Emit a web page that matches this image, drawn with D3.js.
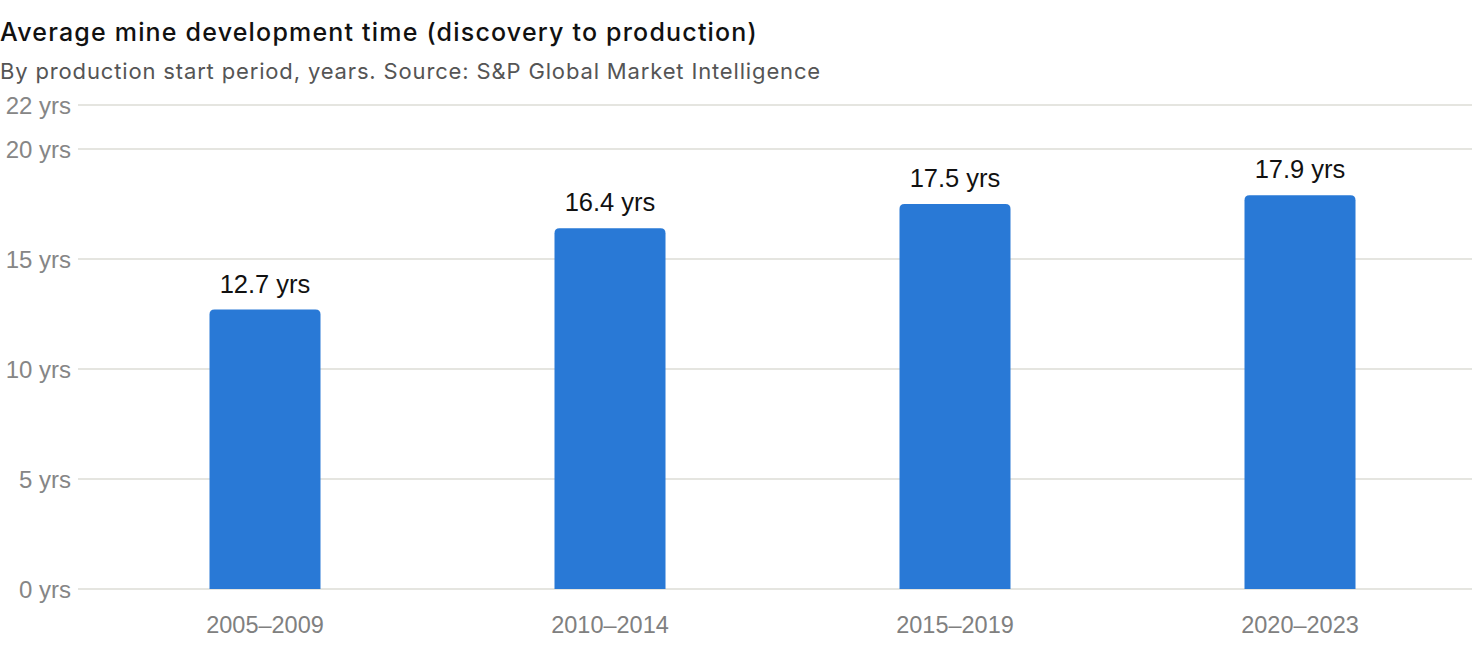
<!DOCTYPE html>
<html><head><meta charset="utf-8">
<script src="https://cdn.jsdelivr.net/npm/d3@7"></script>
<style>
html,body{margin:0;padding:0;background:#fff;}
svg{display:block;font-family:"Liberation Sans",Arial,Helvetica,sans-serif;}
.sf{font-family:Inter,"Liberation Sans",sans-serif;}
</style></head>
<body>
<svg id="chart" width="1472" height="670"></svg>
<script>
const categories = ["2005–2009","2010–2014","2015–2019","2020–2023"];
const values = [12.7, 16.4, 17.5, 17.9];
const yTicks = [0, 5, 10, 15, 20, 22];
const title = "Average mine development time (discovery to production)";
const subtitle = "By production start period, years. Source: S&P Global Market Intelligence";

const W = 1472, H = 670;
const svg = d3.select("#chart");
const plotLeft = 78, plotRight = 1472;
const y = d3.scaleLinear().domain([0, 22]).range([589, 105]);
const x = d3.scaleBand().domain(categories).range([92.5, 1472.5]).padding(0);
const barW = 111;

function fitWidth(sel, target) {
  const n = sel.text().length;
  const w = sel.node().getComputedTextLength();
  sel.attr("letter-spacing", ((target - w) / n).toFixed(3));
}

const t = svg.append("text").attr("class", "sf").attr("x", 0).attr("y", 41)
  .attr("font-size", 25).attr("font-weight", 500).attr("fill", "#111").text(title);
fitWidth(t, 758);
const s = svg.append("text").attr("class", "sf").attr("x", 0).attr("y", 79)
  .attr("font-size", 22).attr("fill", "#555").text(subtitle);
fitWidth(s, 821);

const grid = svg.append("g");
grid.selectAll("line").data(yTicks).join("line")
  .attr("x1", plotLeft).attr("x2", plotRight)
  .attr("y1", d => y(d)).attr("y2", d => y(d))
  .attr("stroke", "#dddcd6").attr("stroke-width", 1.5);
grid.selectAll("text").data(yTicks).join("text")
  .attr("x", 71).attr("y", d => y(d) + 8.5).attr("text-anchor", "end")
  .attr("font-size", 24).attr("fill", "#868686")
  .text(d => d + " yrs");

const r = 5;
svg.append("g").selectAll("path").data(categories).join("path")
  .attr("fill", "#2979d6")
  .attr("d", (c, i) => {
    const cx = x(c) + x.bandwidth() / 2;
    const x0 = cx - barW / 2, x1 = cx + barW / 2;
    const yt = y(values[i]), yb = y(0);
    return `M${x0},${yb}V${yt + r}Q${x0},${yt} ${x0 + r},${yt}H${x1 - r}Q${x1},${yt} ${x1},${yt + r}V${yb}Z`;
  });

svg.append("g").selectAll("text").data(categories).join("text")
  .attr("x", c => x(c) + x.bandwidth() / 2)
  .attr("y", (c, i) => y(values[i]) - 17)
  .attr("text-anchor", "middle").attr("font-size", 25.5).attr("fill", "#111")
  .text((c, i) => values[i] + " yrs");

svg.append("g").selectAll("text").data(categories).join("text")
  .attr("x", c => x(c) + x.bandwidth() / 2)
  .attr("y", 633).attr("text-anchor", "middle")
  .attr("font-size", 23.5).attr("fill", "#808080")
  .text(c => c);
</script>
</body></html>
